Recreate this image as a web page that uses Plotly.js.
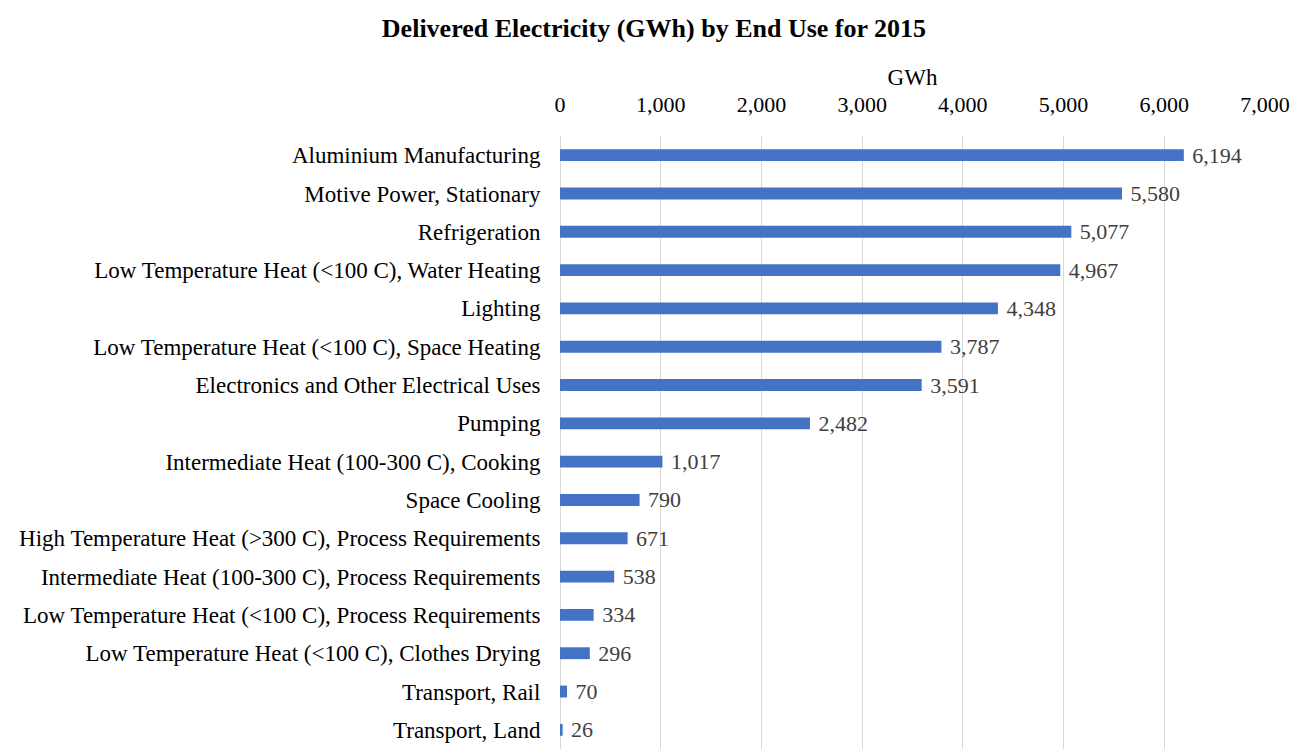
<!DOCTYPE html>
<html>
<head>
<meta charset="utf-8">
<script src="https://cdn.plot.ly/plotly-3.0.1.min.js"></script>
<style>html,body{margin:0;padding:0;background:#fff;}#chart{width:1295px;height:749px;}</style>
</head>
<body>
<div id="chart"></div>
<script>
const categories = [
  "Aluminium Manufacturing",
  "Motive Power, Stationary",
  "Refrigeration",
  "Low Temperature Heat (<100 C), Water Heating",
  "Lighting",
  "Low Temperature Heat (<100 C), Space Heating",
  "Electronics and Other Electrical Uses",
  "Pumping",
  "Intermediate Heat (100-300 C), Cooking",
  "Space Cooling",
  "High Temperature Heat (>300 C), Process Requirements",
  "Intermediate Heat (100-300 C), Process Requirements",
  "Low Temperature Heat (<100 C), Process Requirements",
  "Low Temperature Heat (<100 C), Clothes Drying",
  "Transport, Rail",
  "Transport, Land"
];
const values = [6194, 5580, 5077, 4967, 4348, 3787, 3591, 2482, 1017, 790, 671, 538, 334, 296, 70, 26];
const tickValues = [0, 1000, 2000, 3000, 4000, 5000, 6000, 7000];
const tickLabels = ["0", "1,000", "2,000", "3,000", "4,000", "5,000", "6,000", "7,000"];

const labelText = values.map(v => " " + v.toLocaleString("en-US"));
const serif = "Liberation Serif, DejaVu Serif, serif";

const trace = {
  type: "bar",
  orientation: "h",
  x: values,
  y: categories,
  width: 0.31,
  marker: {color: "#4472C4"},
  text: labelText,
  textposition: "outside",
  constraintext: "none",
  cliponaxis: false,
  textfont: {family: serif, size: 22, color: "#404040"},
  hoverinfo: "x+y"
};

const layout = {
  width: 1295,
  height: 749,
  margin: {l: 560, r: 30, t: 136, b: 0, autoexpand: false},
  paper_bgcolor: "#ffffff",
  plot_bgcolor: "#ffffff",
  showlegend: false,
  title: {
    text: "<b>Delivered Electricity (GWh) by End Use for 2015</b>",
    font: {family: serif, size: 26, color: "#000000"},
    x: 0.505, xanchor: "center", xref: "container",
    y: 0.963, yanchor: "middle", yref: "container"
  },
  xaxis: {
    side: "top",
    range: [0, 7000],
    tickvals: tickValues,
    ticktext: tickLabels,
    tickfont: {family: serif, size: 22, color: "#000000"},
    showgrid: true,
    gridcolor: "#d9d9d9",
    gridwidth: 1,
    zeroline: true,
    zerolinecolor: "#d9d9d9",
    zerolinewidth: 1,
    showline: false,
    ticks: "outside",
    ticklen: 14,
    tickcolor: "rgba(0,0,0,0)",
    automargin: false,
    fixedrange: true,
    title: {text: "GWh", font: {family: serif, size: 23, color: "#000000"}, standoff: 0}
  },
  yaxis: {
    type: "category",
    autorange: "reversed",
    tickfont: {family: serif, size: 23, color: "#000000"},
    showgrid: false,
    zeroline: false,
    showline: false,
    ticks: "outside",
    ticklen: 14,
    tickcolor: "rgba(0,0,0,0)",
    automargin: false,
    fixedrange: true
  },
  font: {family: serif}
};

Plotly.newPlot("chart", [trace], layout, {displayModeBar: false, staticPlot: true});
</script>
</body>
</html>
